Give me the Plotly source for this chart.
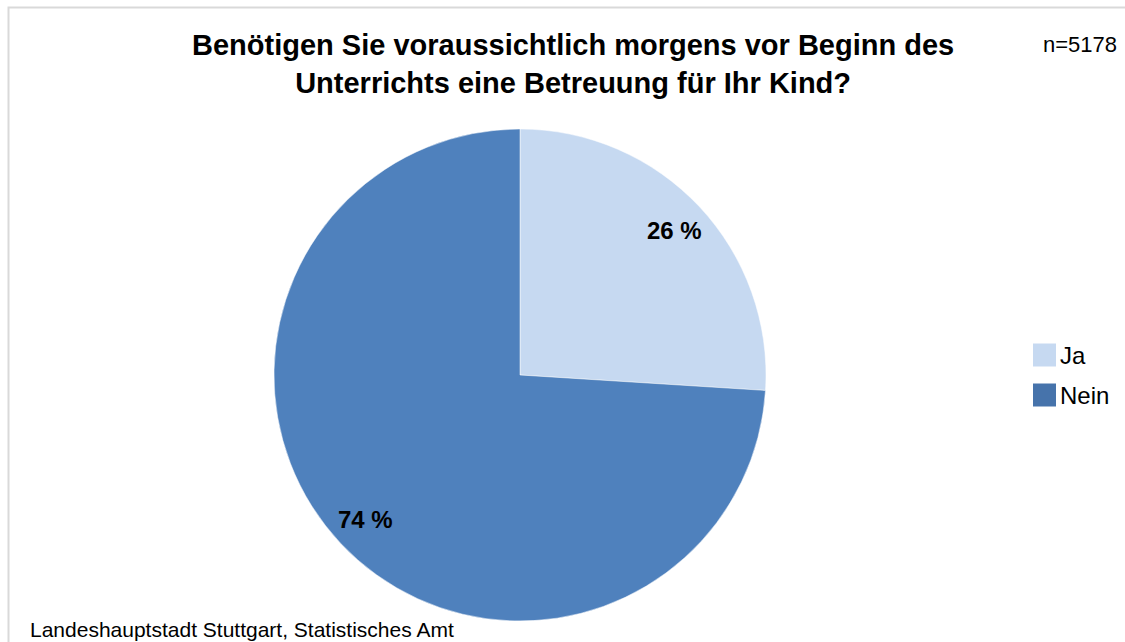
import math
import plotly.graph_objects as go

categories = ["Ja", "Nein"]
values = [26, 74]
colors = ["#C6D9F1", "#4F81BD"]
legend_colors = ["#C6D9F1", "#4673AB"]
title_text = "Benötigen Sie voraussichtlich morgens vor Beginn des<br>Unterrichts eine Betreuung für Ihr Kind?"
n_text = "n=5178"
source_text = "Landeshauptstadt Stuttgart, Statistisches Amt"

W, H = 1125, 642
FONT = "Liberation Sans, Arial, sans-serif"
cx, cy, r = 520, 375, 246
dom_x = [(cx - r) / W, (cx + r) / W]
dom_y = [1 - (cy + r) / H, 1 - (cy - r) / H]

fig = go.Figure(go.Pie(
    labels=categories, values=values, sort=False, direction="clockwise", rotation=0,
    marker=dict(colors=colors, line=dict(color="white", width=0.5)),
    textinfo="none", hoverinfo="label+percent", showlegend=False,
    domain=dict(x=dom_x, y=dom_y),
))

annotations = []
total = sum(values)
start = 0.0
for v in values:
    mid = (start + v / 2) / total * 2 * math.pi
    start += v
    px = cx + 0.86 * r * math.sin(mid)
    py = cy - 0.86 * r * math.cos(mid)
    annotations.append(dict(x=px / W, y=1 - py / H, xref="paper", yref="paper",
                            xanchor="center", yanchor="middle",
                            text=f"<b>{v} %</b>", showarrow=False,
                            font=dict(size=24, color="black", family=FONT)))

annotations.append(dict(x=573 / W, y=1 - 64 / H, xref="paper", yref="paper", text=f"<b>{title_text}</b>",
                        showarrow=False, font=dict(size=29, color="black", family=FONT),
                        xanchor="center", yanchor="middle"))
annotations.append(dict(x=1119 / W, y=1 - 45 / H, xref="paper", yref="paper", text=n_text, showarrow=False,
                        font=dict(size=22, color="black", family=FONT),
                        xanchor="right", yanchor="middle"))
annotations.append(dict(x=29 / W, y=0, xref="paper", yref="paper", text=source_text, showarrow=False,
                        font=dict(size=21, color="black", family=FONT), borderpad=0,
                        xanchor="left", yanchor="bottom"))

shapes = [dict(type="rect", xref="paper", yref="paper", x0=8.5 / W, y0=-0.05, x1=1.05, y1=1 - 7.5 / H,
               line=dict(color="#D9D9D9", width=2), fillcolor="rgba(0,0,0,0)")]
leg_y = [355, 395]
for i, cat in enumerate(categories):
    yc = leg_y[i]
    shapes.append(dict(type="rect", xref="paper", yref="paper", x0=1033 / W, x1=1056 / W,
                       y0=1 - (yc + 11.5) / H, y1=1 - (yc - 11.5) / H,
                       line=dict(width=0), fillcolor=legend_colors[i]))
    annotations.append(dict(x=1058 / W, y=1 - yc / H, xref="paper", yref="paper", text=cat, showarrow=False,
                            font=dict(size=24, color="black", family=FONT),
                            xanchor="left", yanchor="middle"))

fig.update_layout(width=W, height=H, margin=dict(l=0, r=0, t=0, b=0),
                  paper_bgcolor="white", plot_bgcolor="white",
                  annotations=annotations, shapes=shapes)
fig.write_html("out.html", config={"displayModeBar": False},
               post_script="document.body.style.margin='0';document.body.style.overflow='hidden';")
